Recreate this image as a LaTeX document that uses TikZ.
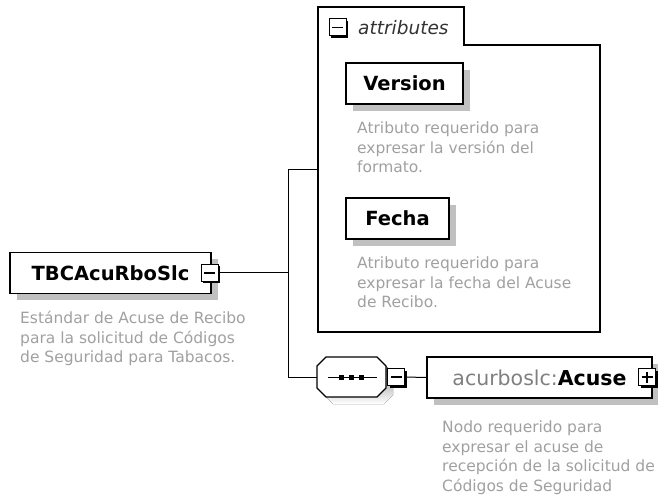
\documentclass[tikz,border=0pt]{standalone}
\usepackage{fontspec}
\setmainfont{DejaVu Sans}
\usetikzlibrary{shadows}

\definecolor{shade}{HTML}{C0C0C0}
\definecolor{descgray}{HTML}{A0A0A0}
\definecolor{nsgray}{HTML}{808080}

\begin{document}
\begin{tikzpicture}[x=1pt, y=-1pt,
    element/.style={rectangle, draw, fill=white, line width=1.2pt, minimum height=41pt, inner sep=0pt, font=\fontsize{19.5}{22}\selectfont\bfseries, drop shadow={shadow xshift=7pt, shadow yshift=-7pt, fill=shade, opacity=1}},
    btn/.style={rectangle, draw, fill=white, line width=1pt, minimum size=17pt, inner sep=0pt, general shadow={shadow xshift=2pt, shadow yshift=-2pt, fill=black}},
    minus/.style={btn, path picture={\draw[line width=1.2pt] ([xshift=3pt]path picture bounding box.west) -- ([xshift=-3pt]path picture bounding box.east);}},
    plus/.style={btn, path picture={\draw[line width=1.2pt] ([xshift=3pt]path picture bounding box.west) -- ([xshift=-3pt]path picture bounding box.east) ([yshift=-3pt]path picture bounding box.north) -- ([yshift=3pt]path picture bounding box.south);}},
    seqbox/.style={rectangle, minimum width=69pt, minimum height=40pt, inner sep=0pt,
        path picture={\draw[line width=1pt] ([xshift=11pt]path picture bounding box.west) -- ([xshift=-9pt]path picture bounding box.east);
            \foreach \d in {-10,0,10} \fill[black] ([xshift=\d pt]path picture bounding box.center) +(-2.5pt,-2.5pt) rectangle +(2.5pt,2.5pt);}},
    desc/.style={anchor=north west, inner sep=0pt, align=left, text=descgray, font=\fontsize{15.5}{19.5}\selectfont},
    link/.style={line width=1pt}
]
    \useasboundingbox (0,0) rectangle (658,502);

    % root element
    \node[element, minimum width=201pt] (root) at (110.5,273) {TBCAcuRboSlc};
    \node[minus] (rootbtn) at (209.5,273) {};
    \node[desc] (rootdesc) at (20,311) {Estándar de Acuse de Recibo\\para la solicitud de Códigos\\de Seguridad para Tabacos.};

    % attributes
    \draw[line width=1.2pt] (318,332) -- (318,7) -- (464,7) -- (464,45) -- (600,45) -- (600,332) -- cycle;
    \node[minus] (attrbtn) at (337.5,27.5) {};
    \node[anchor=west, inner sep=0pt, text=black!80, font=\fontsize{18.5}{22}\selectfont\itshape] (attrlbl) at (358,28) {attributes};

    \node[element, minimum width=117pt] (version) at (404.5,83.5) {Version};
    \node[desc] (versiondesc) at (357,122) {Atributo requerido para\\expresar la versión del\\formato.};

    \node[element, minimum width=103pt] (fecha) at (397.5,218.5) {Fecha};
    \node[desc] (fechadesc) at (357,257) {Atributo requerido para\\expresar la fecha del Acuse\\de Recibo.};

    % sequence compositor (octagon)
    \fill[shade, shift={(7,7)}] (326,357) -- (377,357) -- (386,366) -- (386,388) -- (377,397) -- (326,397) -- (317,388) -- (317,366) -- cycle;
    \draw[fill=white, line width=1.2pt] (326,357) -- (377,357) -- (386,366) -- (386,388) -- (377,397) -- (326,397) -- (317,388) -- (317,366) -- cycle;
    \node[seqbox] (seq) at (351.5,377) {};
    \node[minus] (seqbtn) at (396,377) {};

    % child element
    \node[element, minimum width=225pt, font=\fontsize{20.5}{22}\selectfont] (acuse) at (539.5,377.5) {\textcolor{nsgray}{acurboslc:}\textbf{Acuse}};
    \node[plus] (acusebtn) at (647,377) {};
    \node[desc] (acusedesc) at (442,421) {Nodo requerido para\\expresar el acuse de\\recepción de la solicitud de\\Códigos de Seguridad};

    % links
    \coordinate (fork) at (288,273);
    \coordinate (forkTop) at (288,170);
    \coordinate (forkBot) at (288,377);
    \coordinate (attrsIn) at (318,170);
    \draw[link] (rootbtn.east) -- (fork);
    \draw[link] (forkTop) -- (forkBot);
    \draw[link] (forkTop) -- (attrsIn);
    \draw[link] (forkBot) -- (seq.west);
    \draw[link] (seqbtn.east) -- (acuse.west);

\end{tikzpicture}
\end{document}
